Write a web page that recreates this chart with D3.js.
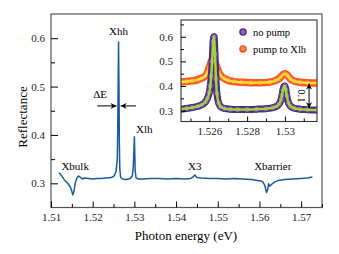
<!DOCTYPE html>
<html>
<head>
<meta charset="utf-8">
<script src="https://cdn.jsdelivr.net/npm/d3@7"></script>
<style>
  body { margin: 0; background: #fff; }
  svg text { font-family: "Liberation Serif", "Times New Roman", serif; }
</style>
</head>
<body>
<div id="chart"></div>
<script>
// ---- data ----
// main reflectance spectrum
const mainX = [1.5119, 1.5125, 1.5132, 1.5140, 1.5146, 1.5150, 1.5152, 1.5155, 1.5158, 1.5162, 1.5166, 1.5170,
  1.5175, 1.5180, 1.5190, 1.5200, 1.5210, 1.5220, 1.5230, 1.5245, 1.5252, 1.5256, 1.5259, 1.5260, 1.5261,
  1.5262, 1.5263, 1.5264, 1.5265, 1.5267, 1.5272, 1.5280, 1.5290, 1.5295, 1.5297, 1.5299, 1.5300, 1.5301,
  1.5302, 1.5304, 1.5310, 1.5320, 1.5340, 1.5360, 1.5380, 1.5400, 1.5420, 1.5435, 1.5442, 1.5445, 1.5450,
  1.5460, 1.5480, 1.5500, 1.5520, 1.5540, 1.5560, 1.5580, 1.5595, 1.5603, 1.5609, 1.5613, 1.5617, 1.5620,
  1.5622, 1.5625, 1.5628, 1.5635, 1.5645, 1.5660, 1.5680, 1.5700, 1.5715, 1.5727];
const mainY = [0.322, 0.316, 0.307, 0.300, 0.293, 0.284, 0.276, 0.283, 0.300, 0.311, 0.315, 0.313,
  0.309, 0.311, 0.310, 0.309, 0.310, 0.310, 0.311, 0.312, 0.316, 0.325, 0.350, 0.400, 0.500,
  0.592, 0.500, 0.380, 0.330, 0.312, 0.309, 0.308, 0.310, 0.315, 0.330, 0.370, 0.396, 0.360,
  0.325, 0.311, 0.309, 0.309, 0.310, 0.310, 0.309, 0.310, 0.309, 0.310, 0.314, 0.317, 0.312,
  0.311, 0.310, 0.310, 0.309, 0.310, 0.309, 0.308, 0.306, 0.305, 0.302, 0.295, 0.281, 0.288,
  0.299, 0.294, 0.297, 0.302, 0.306, 0.308, 0.309, 0.310, 0.311, 0.313];

// inset: no pump
const noPumpX = [1.5245, 1.5248, 1.5251, 1.5254, 1.5256, 1.5258, 1.5259, 1.5260, 1.52605, 1.5261, 1.52615,
  1.5262, 1.52625, 1.5263, 1.52635, 1.5264, 1.5265, 1.5266, 1.5268, 1.5271, 1.5275, 1.5280, 1.5285, 1.5290,
  1.5294, 1.5296, 1.5297, 1.5298, 1.52985, 1.5299, 1.52995, 1.5300, 1.53005, 1.5301, 1.5302, 1.5303, 1.5305,
  1.5308, 1.5312, 1.5317];
const noPumpY = [0.306, 0.309, 0.313, 0.318, 0.324, 0.336, 0.350, 0.375, 0.400, 0.440, 0.500,
  0.580, 0.600, 0.530, 0.430, 0.370, 0.330, 0.316, 0.309, 0.306, 0.305, 0.305, 0.306, 0.308,
  0.313, 0.320, 0.328, 0.345, 0.362, 0.385, 0.398, 0.400, 0.385, 0.360, 0.330, 0.318, 0.310,
  0.306, 0.304, 0.303];

// inset: pump to Xlh
const pumpX = [1.5245, 1.5248, 1.5251, 1.5254, 1.5256, 1.5258, 1.5259, 1.5260, 1.5261, 1.5262, 1.5263,
  1.5264, 1.5265, 1.5266, 1.5268, 1.5270, 1.5273, 1.5277, 1.5282, 1.5287, 1.5292, 1.5295, 1.5297, 1.5298,
  1.5299, 1.5300, 1.5301, 1.5302, 1.5303, 1.5305, 1.5308, 1.5312, 1.5317];
const pumpY = [0.416, 0.418, 0.421, 0.426, 0.432, 0.442, 0.455, 0.475, 0.500, 0.510, 0.497,
  0.475, 0.455, 0.443, 0.430, 0.423, 0.418, 0.415, 0.413, 0.413, 0.416, 0.422, 0.430, 0.438,
  0.446, 0.450, 0.446, 0.437, 0.428, 0.420, 0.415, 0.413, 0.412];

const mainTicksX = [1.51, 1.52, 1.53, 1.54, 1.55, 1.56, 1.57];
const mainTicksY = [0.3, 0.4, 0.5, 0.6];
const insetTicksX = [1.526, 1.528, 1.53];
const insetTicksY = [0.3, 0.4, 0.5, 0.6];

const peakLabels = [
  { text: "Xhh", x: 1.5262, y: 0.606 },
  { text: "Xlh", x: 1.5304, y: 0.405 },
  { text: "Xbulk", x: 1.5158, y: 0.328 },
  { text: "X3", x: 1.5445, y: 0.328 },
  { text: "Xbarrier", x: 1.5632, y: 0.328 }
];

// ---- set up ----
const width = 339, height = 254;
const svg = d3.select("#chart").append("svg")
  .attr("width", width)
  .attr("height", height);

const defs = svg.append("defs");
defs.append("marker")
  .attr("id", "arrow")
  .attr("viewBox", "0 0 10 10")
  .attr("refX", 10).attr("refY", 5)
  .attr("markerWidth", 6).attr("markerHeight", 6)
  .attr("markerUnits", "userSpaceOnUse")
  .attr("orient", "auto-start-reverse")
  .append("path")
  .attr("d", "M0,0 L10,5 L0,10 L3,5 Z")
  .attr("fill", "#000");

const x = d3.scaleLinear().domain([1.51, 1.575]).range([51, 322]);
const y = d3.scaleLinear().domain([0.25, 0.65]).range([207.5, 14]);

// main frame
svg.append("rect")
  .attr("x", 51).attr("y", 14)
  .attr("width", 271).attr("height", 193.5)
  .attr("fill", "none")
  .attr("stroke", "#555")
  .attr("stroke-width", 1.2);

// minor ticks
const minorX = d3.range(1.515, 1.575, 0.01);
const minorY = [0.35, 0.45, 0.55];

svg.append("g")
  .attr("transform", "translate(0,207.5)")
  .call(d3.axisBottom(x).tickValues(minorX).tickSize(-3.5).tickFormat(""))
  .call(g => g.select(".domain").remove());
svg.append("g")
  .attr("transform", "translate(51,0)")
  .call(d3.axisLeft(y).tickValues(minorY).tickSize(-4).tickFormat(""))
  .call(g => g.select(".domain").remove());

// major axes
svg.append("g")
  .attr("transform", "translate(0,207.5)")
  .call(d3.axisBottom(x).tickValues(mainTicksX).tickSize(-6).tickPadding(6).tickFormat(d3.format("")))
  .call(g => g.select(".domain").remove())
  .call(g => g.selectAll("text").attr("font-size", 11).attr("fill", "#222"));
svg.append("g")
  .attr("transform", "translate(51,0)")
  .call(d3.axisLeft(y).tickValues(mainTicksY).tickSize(-7).tickPadding(6).tickFormat(d3.format(".1f")))
  .call(g => g.select(".domain").remove())
  .call(g => g.selectAll("text").attr("font-size", 11).attr("fill", "#222"));

// axis titles
svg.append("text")
  .attr("x", 186).attr("y", 240)
  .attr("text-anchor", "middle")
  .attr("font-size", 13)
  .text("Photon energy (eV)");
svg.append("text")
  .attr("transform", "translate(27,117) rotate(-90)")
  .attr("text-anchor", "middle")
  .attr("font-size", 13)
  .text("Reflectance");

// spectrum
const mainData = mainX.map((d, i) => [d, mainY[i]]);
svg.append("path")
  .datum(mainData)
  .attr("fill", "none")
  .attr("stroke", "#1b5a9b")
  .attr("stroke-width", 1.5)
  .attr("stroke-linejoin", "round")
  .attr("d", d3.line().x(d => x(d[0])).y(d => y(d[1])));

// peak labels
svg.selectAll(".peaklabel")
  .data(peakLabels)
  .enter().append("text")
  .attr("class", "peaklabel")
  .attr("x", d => x(d.x))
  .attr("y", d => y(d.y))
  .attr("text-anchor", d => d.text === "Xlh" ? "start" : "middle")
  .attr("font-size", 11)
  .text(d => d.text);

// delta E arrows
svg.append("text")
  .attr("x", x(1.5218)).attr("y", y(0.477))
  .attr("text-anchor", "middle")
  .attr("font-size", 11)
  .text("ΔE");
svg.append("line")
  .attr("x1", x(1.5211)).attr("x2", x(1.5257))
  .attr("y1", y(0.46)).attr("y2", y(0.46))
  .attr("stroke", "#000").attr("stroke-width", 1)
  .attr("marker-end", "url(#arrow)");
svg.append("line")
  .attr("x1", x(1.5304)).attr("x2", x(1.5267))
  .attr("y1", y(0.46)).attr("y2", y(0.46))
  .attr("stroke", "#000").attr("stroke-width", 1)
  .attr("marker-end", "url(#arrow)");

// ---- inset ----
const xi = d3.scaleLinear().domain([1.5245, 1.5317]).range([181, 317]);
const yi = d3.scaleLinear().domain([0.256, 0.668]).range([121.5, 20]);

defs.append("clipPath").attr("id", "insetclip")
  .append("rect").attr("x", 181).attr("y", 20).attr("width", 136).attr("height", 101.5);

svg.append("rect")
  .attr("x", 158).attr("y", 16)
  .attr("width", 162).attr("height", 122)
  .attr("fill", "#fff");

const inset = svg.append("g");

const plotArea = inset.append("g").attr("clip-path", "url(#insetclip)");
const line = d3.line().x(d => xi(d[0])).y(d => yi(d[1])).curve(d3.curveMonotoneX);

const pumpData = pumpX.map((d, i) => [d, pumpY[i]]);
const noPumpData = noPumpX.map((d, i) => [d, noPumpY[i]]);

// pump to Xlh: marker band + fit
plotArea.append("path").datum(pumpData)
  .attr("fill", "none").attr("stroke", "#ff5a22").attr("stroke-width", 7.5)
  .attr("stroke-linejoin", "round").attr("d", line);
plotArea.selectAll(".pumppt").data(pumpData).enter().append("circle")
  .attr("class", "pumppt")
  .attr("cx", d => xi(d[0])).attr("cy", d => yi(d[1])).attr("r", 3)
  .attr("fill", "#ff8a55").attr("stroke", "#ff4f1c").attr("stroke-width", 1);
plotArea.append("path").datum(pumpData)
  .attr("fill", "none").attr("stroke", "#ffe033").attr("stroke-width", 2.5)
  .attr("d", line);

// no pump: marker band + fit
plotArea.append("path").datum(noPumpData)
  .attr("fill", "none").attr("stroke", "#4e2d85").attr("stroke-width", 7)
  .attr("stroke-linejoin", "round").attr("d", line);
plotArea.selectAll(".nopt").data(noPumpData).enter().append("circle")
  .attr("class", "nopt")
  .attr("cx", d => xi(d[0])).attr("cy", d => yi(d[1])).attr("r", 3)
  .attr("fill", "#8a6cb8").attr("stroke", "#4e2d85").attr("stroke-width", 1);
plotArea.append("path").datum(noPumpData)
  .attr("fill", "none").attr("stroke", "#a4d23a").attr("stroke-width", 2.5)
  .attr("d", line);

// inset frame and axes
inset.append("rect")
  .attr("x", 181).attr("y", 20).attr("width", 136).attr("height", 101.5)
  .attr("fill", "none").attr("stroke", "#333").attr("stroke-width", 1.1);

inset.append("g")
  .attr("transform", "translate(0,121.5)")
  .call(d3.axisBottom(xi).tickValues([1.525, 1.527, 1.529, 1.531]).tickSize(-3).tickFormat(""))
  .call(g => g.select(".domain").remove());
inset.append("g")
  .attr("transform", "translate(0,121.5)")
  .call(d3.axisBottom(xi).tickValues(insetTicksX).tickSize(-5).tickPadding(6).tickFormat(d3.format("")))
  .call(g => g.select(".domain").remove())
  .call(g => g.selectAll("text").attr("font-size", 11).attr("fill", "#222"));
inset.append("g")
  .attr("transform", "translate(181,0)")
  .call(d3.axisLeft(yi).tickValues([0.35, 0.45, 0.55, 0.65]).tickSize(-3).tickFormat(""))
  .call(g => g.select(".domain").remove());
inset.append("g")
  .attr("transform", "translate(181,0)")
  .call(d3.axisLeft(yi).tickValues(insetTicksY).tickSize(-5).tickPadding(8).tickFormat(d3.format(".1f")))
  .call(g => g.select(".domain").remove())
  .call(g => g.selectAll("text").attr("font-size", 11).attr("fill", "#222"));

// legend
const legend = [
  { label: "no pump", fill: "#8a6cb8", stroke: "#4e2d85" },
  { label: "pump to Xlh", fill: "#ff8a55", stroke: "#ff4f1c" }
];
const lg = inset.selectAll(".leg").data(legend).enter().append("g")
  .attr("class", "leg")
  .attr("transform", (d, i) => `translate(243,${32 + i * 17})`);
lg.append("circle").attr("r", 3)
  .attr("fill", d => d.fill).attr("stroke", d => d.stroke).attr("stroke-width", 1.5);
lg.append("text").attr("x", 10).attr("y", 3.5)
  .attr("font-size", 10.5)
  .text(d => d.label);

// 0.1 offset arrow
inset.append("line")
  .attr("x1", xi(1.53128)).attr("x2", xi(1.53128))
  .attr("y1", yi(0.41)).attr("y2", yi(0.31))
  .attr("stroke", "#000").attr("stroke-width", 1)
  .attr("marker-start", "url(#arrow)")
  .attr("marker-end", "url(#arrow)");
inset.append("text")
  .attr("transform", `translate(${xi(1.53128) - 11},${yi(0.36)}) rotate(90)`)
  .attr("text-anchor", "middle")
  .attr("font-size", 10.5)
  .text("0.1");
</script>
</body>
</html>
